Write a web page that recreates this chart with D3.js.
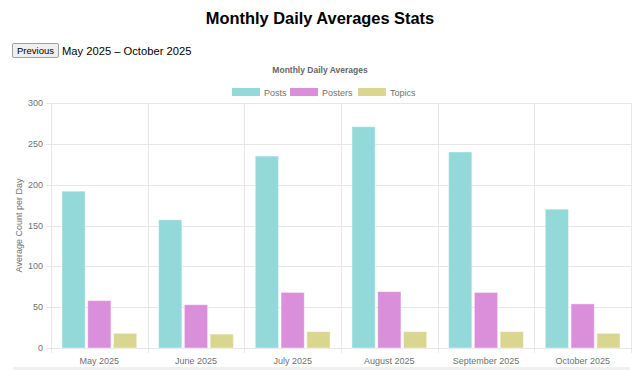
<!DOCTYPE html>
<html>
<head>
<meta charset="utf-8">
<script src="https://cdn.jsdelivr.net/npm/d3@7"></script>
<style>
body { margin: 0; background: #fff; font-family: "Liberation Sans", Arial, sans-serif; width: 640px; height: 370px; overflow: hidden; position: relative; }
h1 { position: absolute; left: 0; top: 8px; width: 640px; margin: 0; text-align: center; font-size: 16.4px; line-height: 20px; color: #000; }
#nav { position: absolute; left: 12px; top: 43px; display: flex; align-items: center; }
#nav button { font: 9.5px "Liberation Sans", Arial, sans-serif; height: 15px; width: 47px; padding: 0; border: 1px solid #a0a0a0; border-radius: 2px; background: #efefef; color: #000; }
#nav span { margin-left: 3px; font-size: 11.2px; color: #000; }
#graf { position: absolute; left: 0; top: 0; }
</style>
</head>
<body>
<h1>Monthly Daily Averages Stats</h1>
<div id="nav"><button>Previous</button><span>May 2025 – October 2025</span></div>
<div id="graf"></div>
<script>
let months = ["May 2025", "June 2025", "July 2025", "August 2025", "September 2025", "October 2025"]
let series = ["Posts", "Posters", "Topics"]
let posts = [192, 157, 235, 271, 240, 170]
let posters = [58, 53, 68, 69, 68, 54]
let topics = [18, 17, 20, 20, 20, 18]
let yTicks = [0, 50, 100, 150, 200, 250, 300]

let colors = {Posts: "#93d9d9", Posters: "#d98fd9", Topics: "#d9d78f"}
let values = {Posts: posts, Posters: posters, Topics: topics}

let width = 640, height = 370;
let margin = {left: 51, right: 9, top: 103, bottom: 22};
let font = '"Liberation Sans", Arial, sans-serif';

let svg = d3.select("#graf").append("svg")
            .attr("width", width)
            .attr("height", height)
            .style("font-family", font);

let x = d3.scaleBand()
          .domain(months)
          .range([margin.left, width - margin.right])
          .padding(0);

let bw = x.bandwidth();
let xs = d3.scaleBand()
           .domain(series)
           .range([0.1 * bw, 0.9 * bw])
           .paddingInner(0.1)
           .paddingOuter(0.05);

let y = d3.scaleLinear()
          .domain([0, 300])
          .range([height - margin.bottom, margin.top]);

// chart title + legend
svg.append("text")
    .attr("x", 320).attr("y", 73)
    .attr("text-anchor", "middle")
    .attr("font-size", 8.5).attr("font-weight", "bold")
    .attr("fill", "#666")
    .text("Monthly Daily Averages");

let legendX = [232, 290, 358];
const leg = svg.append("g").selectAll("g")
    .data(series)
    .join("g")
    .attr("transform", (d, i) => `translate(${legendX[i]},88)`);
leg.append("rect")
    .attr("width", 28).attr("height", 8)
    .attr("fill", d => colors[d]);
leg.append("text")
    .attr("x", 32).attr("y", 7.5)
    .attr("font-size", 9).attr("fill", "#707070")
    .text(d => d);

// grid
const grid = svg.append("g").attr("stroke", "#e6e6e6").attr("stroke-width", 1);
grid.selectAll("line.h")
    .data(yTicks)
    .join("line")
    .attr("x1", margin.left - 5).attr("x2", width - margin.right)
    .attr("y1", d => Math.round(y(d)) + 0.5).attr("y2", d => Math.round(y(d)) + 0.5);
let vlines = months.map(m => x(m)).concat([width - margin.right]);
grid.selectAll("line.v")
    .data(vlines)
    .join("line")
    .attr("x1", d => Math.round(d) + 0.5).attr("x2", d => Math.round(d) + 0.5)
    .attr("y1", margin.top).attr("y2", height - margin.bottom + 5);

// y tick labels
svg.append("g").selectAll("text")
    .data(yTicks)
    .join("text")
    .attr("x", margin.left - 8).attr("y", d => y(d) + 3)
    .attr("text-anchor", "end")
    .attr("font-size", 9).attr("fill", "#707070")
    .text(d => d);

svg.append("text")
    .attr("transform", `translate(22,${(y(0) + y(300)) / 2}) rotate(-90)`)
    .attr("text-anchor", "middle")
    .attr("font-size", 9).attr("fill", "#707070")
    .text("Average Count per Day");

// x labels
svg.append("g").selectAll("text")
    .data(months)
    .join("text")
    .attr("x", d => x(d) + bw / 2).attr("y", height - margin.bottom + 16)
    .attr("text-anchor", "middle")
    .attr("font-size", 9).attr("fill", "#707070")
    .text(d => d);

// bars
const bars = svg.append("g").selectAll("g")
    .data(months)
    .join("g")
    .attr("transform", d => `translate(${x(d)},0)`);
bars.selectAll("rect")
    .data((m, i) => series.map(s => ({s: s, v: values[s][i]})))
    .join("rect")
    .attr("x", d => xs(d.s))
    .attr("width", xs.bandwidth())
    .attr("y", d => y(d.v))
    .attr("height", d => y(0) - y(d.v))
    .attr("fill", d => colors[d.s])
    .attr("stroke", "#fff").attr("stroke-opacity", 0.4).attr("stroke-width", 1);

// bottom strip
svg.append("rect")
    .attr("x", 13).attr("y", 367)
    .attr("width", 617).attr("height", 3)
    .attr("fill", "#f0f0f0");
</script>
</body>
</html>
